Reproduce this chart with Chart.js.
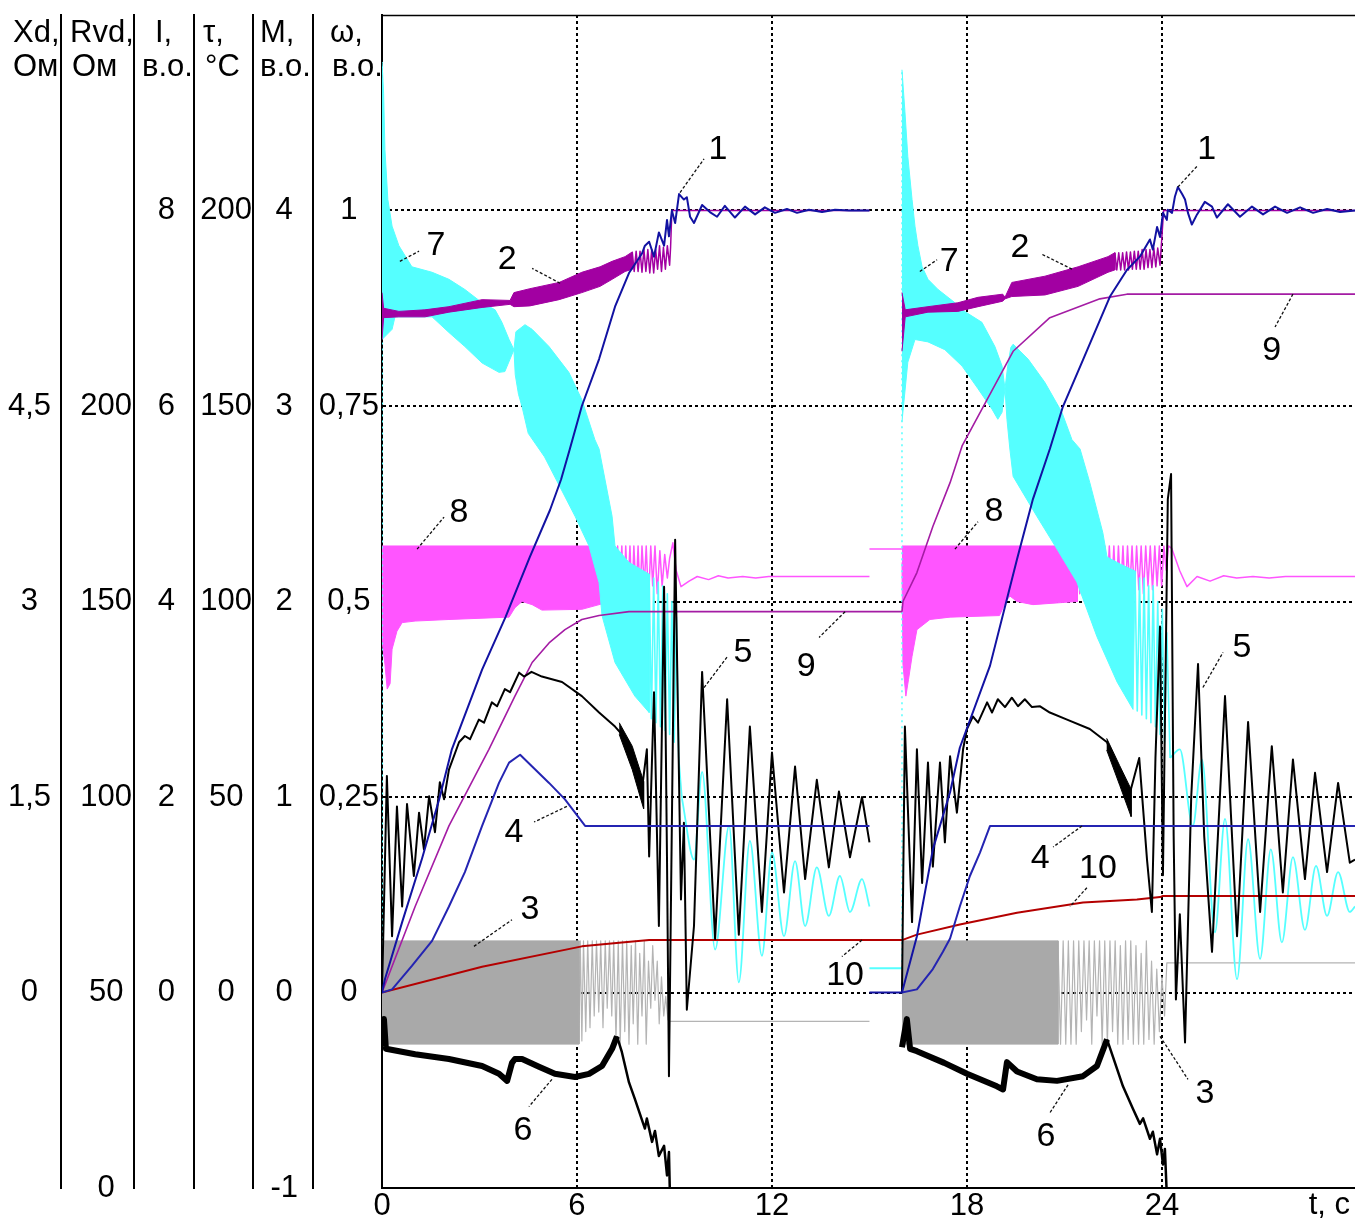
<!DOCTYPE html>
<html>
<head>
<meta charset="utf-8">
<script src="https://cdn.jsdelivr.net/npm/chart.js@4.4.1/dist/chart.umd.min.js"></script>
<style>
  html, body { margin: 0; padding: 0; background: #fff; }
  canvas { display: block; }
</style>
</head>
<body>
<canvas id="c" width="1355" height="1218"></canvas>
<script>
// ---------- axis ticks ----------
const ticksTime = [0, 6, 12, 18, 24];
const ticksOmega = [0, 0.25, 0.5, 0.75, 1];
const ticksTorque = [-1, 0, 1, 2, 3, 4];
const ticksTemp = [0, 50, 100, 150, 200];
const ticksCurrent = [0, 2, 4, 6, 8];
const ticksRvd = [0, 50, 100, 150, 200];
const ticksXd = [0, 1.5, 3, 4.5];

// ---------- run 1 (0–15 s) and run 2 (16–30 s); values in ω units (в.о.) ----------
// 1 – rotor speed
const speed1 = [[0,0],[0.09,0.017],[0.62,0.09],[1.23,0.171],[1.76,0.247],[2.15,0.311],[3.08,0.413],[3.8,0.48],[4.55,0.557],[5.17,0.617],[5.51,0.656],[5.78,0.695],[6.15,0.75],[6.68,0.81],[7.17,0.877],[7.6,0.92],[8.0,0.945],[8.09,0.955],[8.22,0.96],[8.37,0.941],[8.52,0.972],[8.68,0.955],[8.77,0.988],[8.83,0.967],[8.92,1.0],[9.02,0.984],[9.14,1.021],[9.29,1.014],[9.38,1.017],[9.48,0.992],[9.6,0.984],[9.85,1.007],[10.09,0.998],[10.31,0.992],[10.55,1.006],[10.86,0.991],[11.17,1.005],[11.48,0.995],[11.78,1.004],[12.09,0.997],[12.46,1.002],[12.77,0.997],[13.14,1.001],[13.54,0.998],[13.94,1.001],[14.37,1.0],[15.0,1.0]];
const speed2 = [[15,0],[16,0],[16.46,0.072],[16.95,0.183],[17.48,0.256],[17.78,0.313],[18.71,0.418],[19.54,0.554],[20.03,0.631],[20.55,0.695],[20.95,0.749],[21.57,0.809],[22.4,0.89],[22.92,0.924],[23.32,0.941],[23.63,0.963],[23.72,0.95],[23.85,0.979],[23.94,0.966],[24.03,0.997],[24.15,0.988],[24.18,1.001],[24.31,0.997],[24.4,1.018],[24.49,1.03],[24.62,1.021],[24.71,1.014],[24.8,0.997],[24.92,0.982],[25.08,0.995],[25.32,1.011],[25.54,1.005],[25.69,0.991],[26.03,1.008],[26.4,0.992],[26.77,1.005],[27.11,0.995],[27.48,1.005],[27.85,0.997],[28.25,1.004],[28.65,0.997],[29.08,1.002],[29.48,0.998],[29.94,1.0]];

// 2 – band envelopes and ripple
const c2TopA = [[0,0.895],[0.05,0.875],[0.52,0.871],[1.32,0.873],[2.06,0.877],[3.08,0.886],[3.94,0.885],[4.06,0.895],[4.55,0.9],[5.45,0.908],[6.15,0.921],[6.71,0.928],[7.08,0.935],[7.48,0.941],[7.7,0.947]];
const c2BotA = [[0,0.835],[0.05,0.863],[0.52,0.864],[1.32,0.864],[2.06,0.87],[3.08,0.876],[3.94,0.88],[4.06,0.877],[4.55,0.878],[5.45,0.886],[6.15,0.895],[6.71,0.903],[7.08,0.912],[7.48,0.922],[7.7,0.925]];
const c2RipA = [[7.7,0.947],[7.76,0.922],[7.82,0.948],[7.88,0.922],[7.94,0.948],[8.0,0.921],[8.06,0.95],[8.12,0.922],[8.18,0.95],[8.24,0.92],[8.3,0.95],[8.36,0.92],[8.42,0.95],[8.48,0.925],[8.54,0.955],[8.6,0.922],[8.66,0.953],[8.72,0.925],[8.78,0.955],[8.85,0.93],[8.88,0.953],[8.92,1.0],[15,1.0]];
const c2TopB = [[16.0,0.895],[16.1,0.873],[16.8,0.877],[17.72,0.882],[18.34,0.889],[19.1,0.893],[19.17,0.889],[19.38,0.908],[20.4,0.916],[21.42,0.928],[22.34,0.941],[22.55,0.946]];
const c2BotB = [[16.0,0.82],[16.1,0.864],[16.8,0.87],[17.72,0.871],[18.34,0.877],[19.1,0.884],[19.17,0.887],[19.38,0.89],[20.4,0.892],[21.42,0.903],[22.34,0.921],[22.55,0.924]];
const c2RipB = [[22.55,0.946],[22.61,0.924],[22.67,0.946],[22.73,0.924],[22.79,0.946],[22.85,0.924],[22.91,0.947],[22.97,0.924],[23.03,0.947],[23.09,0.925],[23.15,0.948],[23.21,0.925],[23.27,0.948],[23.33,0.925],[23.39,0.95],[23.45,0.925],[23.51,0.95],[23.57,0.927],[23.63,0.95],[23.69,0.927],[23.75,0.952],[23.81,0.928],[23.87,0.952],[23.94,0.93],[23.98,0.955],[24.05,1.0],[29.94,1.0]];

// 3 – band envelopes, ripple and steady value
const c3TopA = [[0,0.066],[6.06,0.066]];
const c3BotA = [[0,-0.066],[6.06,-0.066]];
const c3RipA = [[6.06,-0.066],[6.1,0.066],[6.15,-0.062],[6.2,0.066],[6.27,-0.05],[6.33,0.066],[6.4,-0.045],[6.47,0.066],[6.53,-0.03],[6.6,0.066],[6.67,-0.025],[6.73,0.066],[6.8,-0.045],[6.87,0.066],[6.93,-0.02],[7.0,0.066],[7.07,-0.03],[7.13,0.066],[7.2,-0.06],[7.27,0.066],[7.33,-0.066],[7.4,0.066],[7.47,-0.05],[7.53,0.066],[7.6,-0.066],[7.67,0.06],[7.73,-0.04],[7.8,0.066],[7.87,-0.066],[7.93,0.05],[8.0,-0.03],[8.07,0.066],[8.13,-0.066],[8.2,0.04],[8.27,-0.02],[8.33,0.06],[8.4,-0.01],[8.47,0.04],[8.53,-0.04],[8.6,0.02],[8.67,-0.03],[8.73,-0.005],[8.8,-0.035],[8.85,-0.037],[15,-0.037]];
const c3TopB = [[16,0.066],[20.8,0.066]];
const c3BotB = [[16,-0.066],[20.8,-0.066]];
const c3RipB = [[20.8,0.066],[20.88,-0.066],[20.96,0.066],[21.04,-0.066],[21.12,0.066],[21.2,-0.066],[21.28,0.066],[21.36,-0.066],[21.44,0.066],[21.52,-0.05],[21.6,0.066],[21.68,-0.035],[21.76,0.066],[21.84,-0.066],[21.92,0.066],[22.0,-0.03],[22.08,0.066],[22.16,-0.066],[22.24,0.066],[22.32,-0.066],[22.4,0.066],[22.48,-0.05],[22.56,0.066],[22.64,-0.066],[22.72,0.06],[22.8,-0.066],[22.88,0.066],[22.96,-0.06],[23.04,0.066],[23.12,-0.066],[23.2,0.06],[23.28,-0.066],[23.36,0.05],[23.44,-0.066],[23.52,0.066],[23.6,-0.06],[23.68,0.04],[23.76,-0.066],[23.84,0.03],[23.92,-0.05],[24.0,0.02],[24.08,-0.03],[24.15,0.038],[29.94,0.038]];

// 4
const c4A = [[0,0],[0.31,0.004],[0.92,0.034],[1.54,0.066],[2.06,0.11],[2.55,0.154],[3.08,0.213],[3.6,0.268],[3.91,0.294],[4.25,0.304],[4.62,0.289],[5.14,0.268],[5.63,0.247],[6.25,0.213],[15,0.213]];
const c4B = [[16,0],[16.46,0.004],[16.95,0.03],[17.26,0.052],[17.48,0.069],[17.78,0.11],[18.09,0.149],[18.4,0.179],[18.71,0.213],[29.94,0.213]];

// 5
const c5A = [[0,0],[0.15,0.277],[0.31,0.072],[0.46,0.238],[0.62,0.11],[0.77,0.241],[0.98,0.149],[1.14,0.23],[1.29,0.183],[1.45,0.251],[1.63,0.205],[1.78,0.269],[1.91,0.247],[2.06,0.285],[2.37,0.32],[2.55,0.328],[2.71,0.324],[2.98,0.349],[3.14,0.345],[3.38,0.371],[3.54,0.366],[3.78,0.388],[3.94,0.384],[4.22,0.409],[4.37,0.404],[4.6,0.41],[4.92,0.404],[5.54,0.397],[6.15,0.379],[6.68,0.358],[7.17,0.34],[7.6,0.32],[8.0,0.26],[8.15,0.311],[8.22,0.174],[8.37,0.384],[8.52,0.085],[8.68,0.519],[8.77,0.17],[8.83,-0.107],[9.02,0.579],[9.2,0.119],[9.29,0.217],[9.38,-0.022],[9.6,0.085],[9.85,0.41],[10.25,0.068],[10.62,0.375],[10.98,0.074],[11.32,0.34],[11.69,0.103],[12.0,0.307],[12.37,0.128],[12.71,0.289],[13.02,0.145],[13.38,0.272],[13.75,0.16],[14.06,0.257],[14.4,0.173],[14.77,0.25],[15.0,0.192]];
const c5TopA = [[7.3,0.345],[7.7,0.315],[8.05,0.27]];
const c5BotA = [[7.3,0.33],[7.7,0.285],[8.05,0.235]];
const c5B = [[16,0],[16.09,0.34],[16.31,0.09],[16.46,0.311],[16.62,0.14],[16.8,0.294],[16.95,0.161],[17.17,0.294],[17.32,0.192],[17.48,0.302],[17.69,0.23],[17.88,0.311],[18.0,0.337],[18.18,0.353],[18.34,0.345],[18.62,0.371],[18.77,0.358],[18.95,0.375],[19.17,0.365],[19.38,0.377],[19.57,0.366],[19.78,0.375],[20.0,0.365],[20.25,0.366],[20.55,0.358],[21.08,0.349],[21.78,0.337],[22.31,0.32],[22.4,0.311],[23.02,0.256],[23.3,0.3],[23.54,0.17],[23.69,0.103],[23.8,0.3],[23.94,0.468],[24.03,0.15],[24.18,0.631],[24.28,0.663],[24.36,0.2],[24.43,-0.009],[24.55,0.1],[24.71,-0.064],[24.9,0.25],[25.11,0.42],[25.3,0.2],[25.54,0.052],[25.94,0.379],[26.31,0.072],[26.65,0.346],[27.02,0.103],[27.38,0.315],[27.72,0.128],[28.03,0.298],[28.4,0.145],[28.71,0.281],[29.08,0.154],[29.42,0.268],[29.78,0.166],[29.94,0.17]];
const c5TopB = [[22.3,0.325],[22.7,0.29],[23.05,0.26]];
const c5BotB = [[22.3,0.31],[22.7,0.265],[23.05,0.225]];

// 6
const c6A = [[0,-0.069],[0.06,-0.034],[0.12,-0.072],[1.02,-0.079],[2.06,-0.085],[3.08,-0.094],[3.6,-0.104],[3.85,-0.113],[4.0,-0.09],[4.09,-0.085],[4.31,-0.085],[4.83,-0.095],[5.32,-0.104],[5.94,-0.108],[6.37,-0.104],[6.77,-0.094],[7.08,-0.072],[7.23,-0.056]];
const c6TailA = [[7.23,-0.056],[7.38,-0.076],[7.6,-0.115],[7.78,-0.136],[7.91,-0.152],[8.09,-0.174],[8.15,-0.161],[8.31,-0.191],[8.4,-0.177],[8.52,-0.209],[8.68,-0.196],[8.77,-0.234],[8.83,-0.204],[8.86,-0.26]];
const c6B = [[16,-0.07],[16.15,-0.034],[16.25,-0.072],[16.46,-0.075],[17.3,-0.09],[18.0,-0.104],[18.92,-0.12],[19.11,-0.124],[19.23,-0.089],[19.54,-0.101],[20.15,-0.111],[20.77,-0.113],[21.57,-0.107],[22.0,-0.094],[22.31,-0.06]];
const c6TailB = [[22.31,-0.06],[22.49,-0.082],[22.8,-0.12],[23.11,-0.149],[23.32,-0.168],[23.42,-0.161],[23.63,-0.187],[23.72,-0.178],[23.85,-0.207],[23.94,-0.187],[24.03,-0.22],[24.09,-0.2],[24.15,-0.26]];

// 7 – band envelopes, ripple, start transients
const c7TopA = [[0,1.19],[0.05,1.15],[0.09,1.078],[0.18,1.014],[0.31,0.98],[0.52,0.955],[0.92,0.928],[1.54,0.921],[2.06,0.912],[2.55,0.899],[3.08,0.882],[3.48,0.873],[3.69,0.857],[3.91,0.835],[4.06,0.822],[4.12,0.845],[4.4,0.854],[4.62,0.848],[5.14,0.826],[5.75,0.793],[6.15,0.758],[6.55,0.707],[6.68,0.695],[7.08,0.609],[7.17,0.571],[7.6,0.55],[8.22,0.535]];
const c7BotA = [[0,0.835],[0.31,0.848],[0.4,0.864],[1.54,0.864],[2.06,0.844],[2.55,0.826],[3.08,0.805],[3.6,0.793],[3.78,0.794],[3.94,0.81],[4.06,0.822],[4.1,0.79],[4.2,0.765],[4.31,0.749],[4.5,0.715],[5.0,0.685],[5.94,0.609],[6.37,0.571],[6.68,0.524],[6.77,0.482],[7.17,0.422],[7.78,0.379],[8.22,0.358]];
const c7RipA = [[8.22,0.535],[8.29,0.35],[8.36,0.53],[8.43,0.345],[8.5,0.525],[8.57,0.34],[8.64,0.52],[8.71,0.335],[8.78,0.51],[8.85,0.33],[8.92,0.5],[8.99,0.32],[9.06,0.48],[9.13,0.3],[9.23,0.248]];
const c7WaveA = [[9.23,0.248],[9.6,0.17],[9.85,0.282],[10.25,0.055],[10.68,0.213],[10.98,0.013],[11.32,0.194],[11.69,0.047],[12.0,0.179],[12.37,0.072],[12.71,0.168],[13.02,0.085],[13.38,0.16],[13.75,0.098],[14.09,0.149],[14.4,0.103],[14.77,0.145],[15.0,0.11]];
const c7StartA = [[0.01,0],[0.01,1.19]];
const c7HoldB = [[15,0.031],[16,0.031]];
const c7StartB = [[16,0.031],[16,1.18]];
const c7TopB = [[16.0,1.18],[16.09,1.127],[16.18,1.069],[16.31,1.014],[16.4,0.98],[16.49,0.955],[16.62,0.928],[16.8,0.912],[17.11,0.899],[17.63,0.882],[17.85,0.873],[18.46,0.857],[18.86,0.826],[19.08,0.801],[19.17,0.772],[19.25,0.8],[19.35,0.825],[19.42,0.829],[19.88,0.81],[20.4,0.78],[20.92,0.742],[21.23,0.707],[21.48,0.695],[21.78,0.652],[22.18,0.588],[22.31,0.557],[22.71,0.548],[23.17,0.539]];
const c7BotB = [[16.0,0.73],[16.18,0.806],[16.4,0.835],[16.8,0.832],[17.32,0.822],[17.85,0.801],[18.34,0.772],[18.77,0.746],[18.95,0.733],[19.08,0.742],[19.17,0.772],[19.23,0.733],[19.32,0.695],[19.42,0.66],[20.15,0.609],[20.77,0.567],[21.38,0.525],[22.0,0.455],[22.62,0.397],[23.11,0.362]];
const c7RipB = [[23.17,0.539],[23.24,0.36],[23.31,0.53],[23.38,0.355],[23.45,0.53],[23.52,0.35],[23.59,0.52],[23.66,0.345],[23.73,0.52],[23.8,0.34],[23.87,0.5],[23.94,0.33],[24.01,0.49],[24.08,0.32],[24.15,0.46],[24.25,0.3]];
const c7WaveB = [[24.25,0.3],[24.55,0.311],[24.95,0.213],[25.23,0.298],[25.63,0.077],[25.94,0.222],[26.31,0.017],[26.65,0.196],[27.02,0.043],[27.35,0.183],[27.69,0.064],[28.03,0.173],[28.4,0.08],[28.74,0.162],[29.08,0.098],[29.42,0.154],[29.78,0.103],[29.94,0.11]];

// 8 – band envelopes and ripple
const c8TopA = [[0,0.571],[7.0,0.571]];
const c8BotA = [[0,0.45],[0.09,0.42],[0.16,0.388],[0.25,0.395],[0.31,0.439],[0.46,0.462],[0.62,0.473],[1.02,0.475],[2.06,0.477],[3.91,0.48],[4.09,0.492],[4.31,0.5],[4.62,0.496],[4.92,0.489],[6.15,0.49],[6.77,0.497],[7.0,0.497]];
const c8RipA = [[7.0,0.571],[7.06,0.5],[7.12,0.571],[7.18,0.49],[7.25,0.571],[7.31,0.51],[7.38,0.571],[7.44,0.495],[7.5,0.571],[7.56,0.51],[7.63,0.571],[7.69,0.5],[7.75,0.571],[7.82,0.51],[7.88,0.571],[7.94,0.505],[8.0,0.571],[8.07,0.52],[8.13,0.571],[8.2,0.5],[8.27,0.571],[8.33,0.52],[8.4,0.571],[8.47,0.51],[8.55,0.565],[8.62,0.52],[8.7,0.56],[8.78,0.53],[8.85,0.555],[8.95,0.575],[9.05,0.54],[9.2,0.519],[9.45,0.526],[9.7,0.532],[10.05,0.528],[10.35,0.533],[10.65,0.53],[11.1,0.532],[11.5,0.53],[11.9,0.532],[15.0,0.532]];
const c8HoldB = [[15,0.567],[16,0.567]];
const c8TopB = [[16.0,0.571],[21.4,0.571]];
const c8BotB = [[16.0,0.55],[16.03,0.42],[16.12,0.379],[16.2,0.4],[16.31,0.43],[16.46,0.464],[16.86,0.477],[17.48,0.48],[19.0,0.482],[19.2,0.5],[19.32,0.507],[19.54,0.5],[20.03,0.496],[21.38,0.5],[21.4,0.5]];
const c8RipB = [[21.4,0.571],[21.47,0.51],[21.54,0.571],[21.61,0.5],[21.68,0.571],[21.75,0.51],[21.82,0.571],[21.89,0.495],[21.96,0.571],[22.03,0.51],[22.1,0.571],[22.17,0.5],[22.24,0.571],[22.31,0.505],[22.38,0.571],[22.45,0.51],[22.52,0.571],[22.59,0.5],[22.66,0.571],[22.73,0.51],[22.8,0.571],[22.87,0.505],[22.94,0.571],[23.01,0.515],[23.08,0.571],[23.15,0.51],[23.22,0.571],[23.29,0.515],[23.36,0.571],[23.43,0.51],[23.5,0.571],[23.57,0.52],[23.64,0.571],[23.71,0.515],[23.78,0.571],[23.85,0.52],[23.92,0.571],[23.99,0.52],[24.06,0.571],[24.13,0.54],[24.2,0.571],[24.3,0.568],[24.55,0.539],[24.77,0.519],[25.08,0.532],[25.48,0.526],[25.9,0.533],[26.3,0.53],[26.8,0.532],[27.3,0.53],[27.8,0.532],[29.94,0.532]];

// 9
const c9A = [[0,0],[1.02,0.11],[2.06,0.213],[3.29,0.311],[4.09,0.379],[4.62,0.422],[5.14,0.447],[5.63,0.464],[6.15,0.477],[6.68,0.482],[7.6,0.487],[16,0.487]];
const c9B = [[16,0.487],[16.03,0.5],[16.46,0.537],[16.95,0.596],[17.48,0.652],[17.85,0.699],[19.42,0.82],[20.55,0.863],[22.09,0.887],[22.92,0.893],[29.94,0.893]];

// 10
const c10A = [[0,0],[3.08,0.033],[6.15,0.059],[7.38,0.064],[8.22,0.067],[16,0.067]];
const c10B = [[16,0.067],[16.46,0.074],[17.78,0.087],[19.54,0.102],[21.57,0.115],[23.23,0.119],[23.94,0.122],[24.03,0.1235],[29.94,0.1235]];

// curve numbers: text position and leader line, in (t, ω)
const curveTags = [
  {text: '1',  at: [10.34, 1.078], from: [9.17, 1.023],  to: [9.91, 1.066]},
  {text: '1',  at: [25.38, 1.078], from: [24.49, 1.03],  to: [25.11, 1.058]},
  {text: '2',  at: [3.85, 0.937],  from: [5.48, 0.907],  to: [4.62, 0.926]},
  {text: '2',  at: [19.63, 0.952], from: [21.23, 0.925], to: [20.31, 0.944]},
  {text: '7',  at: [1.66, 0.955],  from: [0.55, 0.935],  to: [1.14, 0.948]},
  {text: '7',  at: [17.45, 0.934], from: [16.55, 0.922], to: [17.08, 0.937]},
  {text: '8',  at: [2.37, 0.614],  from: [1.08, 0.567],  to: [1.91, 0.608]},
  {text: '8',  at: [18.83, 0.615], from: [17.63, 0.567], to: [18.34, 0.602]},
  {text: '9',  at: [13.05, 0.417], from: [14.25, 0.487], to: [13.45, 0.454]},
  {text: '9',  at: [27.38, 0.821], from: [28.03, 0.893], to: [27.48, 0.851]},
  {text: '5',  at: [11.11, 0.434], from: [9.91, 0.39],   to: [10.62, 0.429]},
  {text: '5',  at: [26.46, 0.441], from: [25.26, 0.39],  to: [25.88, 0.435]},
  {text: '4',  at: [4.06, 0.205],  from: [5.69, 0.238],  to: [4.68, 0.218]},
  {text: '4',  at: [20.25, 0.171], from: [21.54, 0.213], to: [20.65, 0.186]},
  {text: '3',  at: [4.55, 0.106],  from: [2.83, 0.059],  to: [4.0, 0.093]},
  {text: '3',  at: [25.32, -0.129],from: [23.94, -0.056],to: [24.8, -0.111]},
  {text: '6',  at: [4.34, -0.176], from: [5.23, -0.111], to: [4.52, -0.146]},
  {text: '6',  at: [20.43, -0.184],from: [21.11, -0.118],to: [20.55, -0.154]},
  {text: '10', at: [14.25, 0.022], from: [14.77, 0.067], to: [14.15, 0.046]},
  {text: '10', at: [22.03, 0.159], from: [21.69, 0.134], to: [21.17, 0.11]}
];

// ---------- styling ----------
const FONT = "'Liberation Sans', Arial, Helvetica, sans-serif";
const COL = {
  c1: '#1212a2', c2: '#a200a2', c3: '#a9a9a9', c3r: '#b4b4b4', c4: '#2424b2', c5: '#000000',
  c6: '#000000', c7: '#55ffff', c8: '#ff55ff', c9: '#a41ca4', c10: '#b40000'
};

// layer: larger value is drawn later (on top)
function line(data, color, width, layer, extra) {
  return Object.assign({
    data, yAxisID: 'y', xAxisID: 'x',
    borderColor: color, backgroundColor: color, borderWidth: width,
    pointRadius: 0, fill: false, tension: 0, order: -layer,
    borderJoinStyle: 'round', borderCapStyle: 'butt'
  }, extra || {});
}
function band(upper, lower, color, layer) {
  return line(upper.concat(lower.slice().reverse()), color, 1, layer, {fill: 'shape'});
}
const smooth = {cubicInterpolationMode: 'monotone'};

const datasets = [
  // 3
  band(c3TopA, c3BotA, COL.c3, 1), line(c3RipA, COL.c3r, 1.2, 1),
  band(c3TopB, c3BotB, COL.c3, 1), line(c3RipB, COL.c3r, 1.2, 1),
  // 8
  band(c8TopA, c8BotA, COL.c8, 2), line(c8RipA, COL.c8, 1.5, 2),
  line(c8HoldB, COL.c8, 1.5, 2),
  band(c8TopB, c8BotB, COL.c8, 2), line(c8RipB, COL.c8, 1.5, 2),
  // 7
  band(c7TopA, c7BotA, COL.c7, 3), line(c7RipA, COL.c7, 1.6, 3), line(c7WaveA, COL.c7, 1.8, 3, smooth),
  line(c7StartA, COL.c7, 1.5, 3, {borderDash: [2, 4]}),
  line(c7HoldB, COL.c7, 1.8, 3),
  line(c7StartB, COL.c7, 1.5, 3, {borderDash: [2, 4]}),
  band(c7TopB, c7BotB, COL.c7, 3), line(c7RipB, COL.c7, 1.6, 3), line(c7WaveB, COL.c7, 1.8, 3, smooth),
  // 2
  band(c2TopA, c2BotA, COL.c2, 4), line(c2RipA, COL.c2, 1.5, 4),
  band(c2TopB, c2BotB, COL.c2, 4), line(c2RipB, COL.c2, 1.5, 4),
  // 9, 10
  line(c9A, COL.c9, 1.6, 5), line(c9B, COL.c9, 1.6, 5),
  line(c10A, COL.c10, 2, 6), line(c10B, COL.c10, 2, 6),
  // 6
  line(c6A, COL.c6, 6, 7), line(c6TailA, COL.c6, 2.5, 7),
  line(c6B, COL.c6, 6, 7), line(c6TailB, COL.c6, 2.5, 7),
  // 5
  line(c5A, COL.c5, 2, 8), band(c5TopA, c5BotA, COL.c5, 8),
  line(c5B, COL.c5, 2, 8), band(c5TopB, c5BotB, COL.c5, 8),
  // 4
  line(c4A, COL.c4, 2, 9), line(c4B, COL.c4, 2, 9),
  // 1
  line(speed1, COL.c1, 2, 10), line(speed2, COL.c1, 2, 10)
];

const tickFont = {family: FONT, size: 31};
const comma = v => String(v).replace('.', ',');
const noPad = s => { s.paddingTop = 0; s.paddingBottom = 0; s.paddingLeft = 0; s.paddingRight = 0; };

function sideAxis(weight, width, min, max, values, crossAlign, padding) {
  return {
    type: 'linear', position: 'left', weight, min, max,
    grid: {display: false, drawTicks: false},
    border: {display: true, color: '#000', width: 2},
    afterBuildTicks: s => { s.ticks = values.map(v => ({value: v})); },
    afterFit: s => { s.width = width; noPad(s); },
    ticks: {color: '#000', font: tickFont, crossAlign, padding, autoSkip: false, callback: v => comma(v)}
  };
}

// column headings of the stacked vertical scales
const axisHeads = [
  {id: 'yXd',  lines: [['Xd,', 13], ['Ом', 13]]},
  {id: 'yRvd', lines: [['Rvd,', 9], ['Ом', 11]]},
  {id: 'yI',   lines: [['I,', 21], ['в.о.', 8]]},
  {id: 'yTau', lines: [['τ,', 9], ['°С', 11]]},
  {id: 'yM',   lines: [['M,', 7], ['в.о.', 7]]},
  {id: 'y',    lines: [['ω,', 17], ['в.о.', 19]]}
];

const headsPlugin = {
  id: 'heads',
  afterDraw(chart) {
    const ctx = chart.ctx;
    ctx.save();
    ctx.fillStyle = '#000';
    ctx.font = `31px ${FONT}`;
    ctx.textAlign = 'left';
    ctx.textBaseline = 'alphabetic';
    for (const h of axisHeads) {
      const s = chart.scales[h.id];
      ctx.fillText(h.lines[0][0], s.left + h.lines[0][1], 42);
      ctx.fillText(h.lines[1][0], s.left + h.lines[1][1], 76);
    }
    // time axis name
    ctx.textAlign = 'right';
    ctx.textBaseline = 'middle';
    ctx.fillText('t, с', chart.chartArea.right - 5, 1205);
    // top frame line
    const a = chart.chartArea;
    ctx.strokeStyle = '#000';
    ctx.lineWidth = 1.5;
    ctx.beginPath();
    ctx.moveTo(a.left, a.top + 0.5);
    ctx.lineTo(a.right, a.top + 0.5);
    ctx.stroke();
    ctx.restore();
  }
};

const tagsPlugin = {
  id: 'tags',
  afterDatasetsDraw(chart) {
    const ctx = chart.ctx, sx = chart.scales.x, sy = chart.scales.y;
    ctx.save();
    ctx.strokeStyle = '#111';
    ctx.lineWidth = 1.3;
    ctx.setLineDash([3, 2]);
    for (const t of curveTags) {
      ctx.beginPath();
      ctx.moveTo(sx.getPixelForValue(t.from[0]), sy.getPixelForValue(t.from[1]));
      ctx.lineTo(sx.getPixelForValue(t.to[0]), sy.getPixelForValue(t.to[1]));
      ctx.stroke();
    }
    ctx.setLineDash([]);
    ctx.fillStyle = '#000';
    ctx.font = `34px ${FONT}`;
    ctx.textAlign = 'center';
    ctx.textBaseline = 'middle';
    for (const t of curveTags) {
      ctx.fillText(t.text, sx.getPixelForValue(t.at[0]), sy.getPixelForValue(t.at[1]));
    }
    ctx.restore();
  }
};

new Chart(document.getElementById('c'), {
  type: 'line',
  data: {datasets},
  options: {
    responsive: false,
    animation: false,
    events: [],
    layout: {padding: {top: 15, right: 0, bottom: 0, left: 0}},
    plugins: {legend: {display: false}, tooltip: {enabled: false}},
    scales: {
      x: {
        type: 'linear', min: 0, max: 29.94,
        afterBuildTicks: s => { s.ticks = ticksTime.map(v => ({value: v})); },
        afterFit: s => { s.height = 30; noPad(s); },
        grid: {display: true, drawTicks: false, lineWidth: 2,
               color: c => (c.tick && c.tick.value === 0) ? 'rgba(0,0,0,0)' : '#000'},
        border: {display: true, color: '#000', width: 2, dash: [3, 3]},
        ticks: {color: '#000', font: tickFont, padding: 0, maxRotation: 0, autoSkip: false}
      },
      yXd:  sideAxis(5, 61, -1.5, 7.5, ticksXd, 'center', 10),
      yRvd: sideAxis(4, 73, 0, 300, ticksRvd, 'center', 2),
      yI:   sideAxis(3, 60, -2, 10, ticksCurrent, 'near', 19),
      yTau: sideAxis(2, 59, -50, 250, ticksTemp, 'center', 1),
      yM:   sideAxis(1, 60, -1, 5, ticksTorque, 'center', 15),
      y: {
        type: 'linear', position: 'left', weight: 0, min: -0.25, max: 1.25,
        afterBuildTicks: s => { s.ticks = ticksOmega.map(v => ({value: v})); },
        afterFit: s => { s.width = 69; noPad(s); },
        grid: {display: true, drawTicks: false, lineWidth: 2, color: '#000'},
        border: {display: true, color: '#000', width: 2, dash: [3, 3]},
        ticks: {color: '#000', font: tickFont, crossAlign: 'center', padding: 3, autoSkip: false,
                callback: v => comma(v)}
      }
    }
  },
  plugins: [headsPlugin, tagsPlugin]
});
</script>
</body>
</html>
